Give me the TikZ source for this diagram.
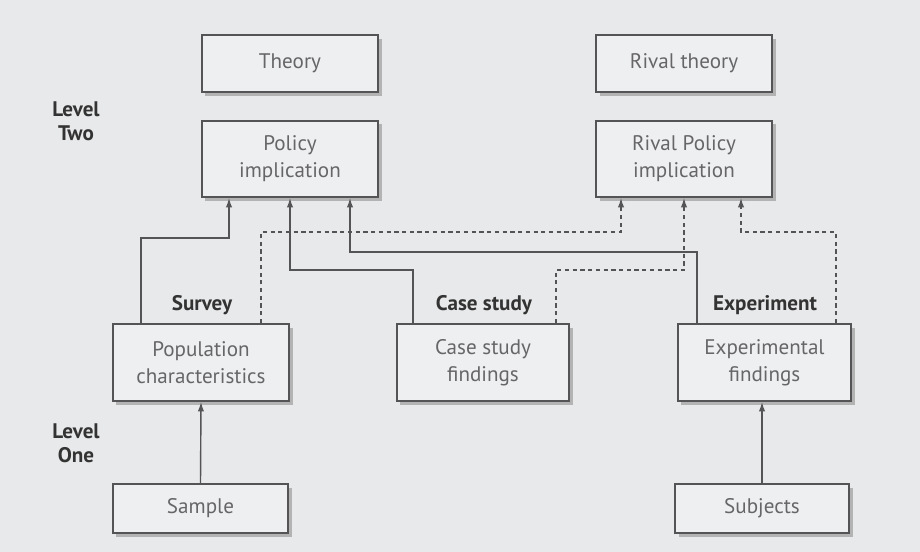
\documentclass[tikz,border=0pt]{standalone}
\usepackage{fontspec}
\setmainfont{PT Sans}
\usetikzlibrary{arrows.meta,calc,shadows}
\definecolor{paper}{rgb}{0.910, 0.914, 0.918}
\definecolor{boxfill}{rgb}{0.935, 0.937, 0.940}
\definecolor{boxtext}{rgb}{0.400, 0.400, 0.410}
\definecolor{edge}{rgb}{0.330, 0.330, 0.340}

\begin{document}
\begin{tikzpicture}[x=0.025cm,y=0.025cm,
  box/.style={draw=edge,line width=1.2pt,fill=boxfill,text=boxtext,align=center,
    minimum width=4.4cm,font=\fontsize{15}{19}\selectfont,
    drop shadow={shadow xshift=2.5pt,shadow yshift=-2.5pt,fill=gray!70,opacity=0.8}},
  tag/.style={font=\bfseries\fontsize{15}{17}\selectfont,text=black!80,align=center},
  link/.style={draw=edge,line width=1pt,-{Latex[length=2.4mm,width=1.6mm]}},
  rival/.style={link,dash pattern=on 3pt off 2.5pt}]

% paper
\fill [paper] (0,0) rectangle (920,552);

% level two
\node [box,minimum height=1.425cm] (theory)      at (290,488.5) {Theory};
\node [box,minimum height=1.425cm] (rivaltheory) at (684,488.5) {Rival theory};
\node [box,minimum height=1.9cm]   (policy)      at (290,393)   {Policy\\implication};
\node [box,minimum height=1.9cm]   (rivalpolicy) at (684,393)   {Rival Policy\\implication};

% level one
\node [box,minimum height=1.925cm] (popchar)  at (201,189.5)   {Population\\characteristics};
\node [box,minimum height=1.925cm,minimum width=4.3cm] (casefind) at (483,189.5) {Case study\\findings};
\node [box,minimum height=1.925cm,minimum width=4.33cm] (expfind) at (764.5,189.5) {Experimental\\findings};
\node [box,minimum height=1.225cm,minimum width=4.38cm] (sample)   at (200.5,43.5) {Sample};
\node [box,minimum height=1.225cm,minimum width=4.35cm] (subjects) at (762,43.5)   {Subjects};

% method labels
\node [tag] (survey)     at (202,247) {Survey};
\node [tag] (casestudy)  at (484,247) {Case study};
\node [tag] (experiment) at (765,247) {Experiment};
\node [tag] (leveltwo)   at (76,431)  {Level\\Two};
\node [tag] (levelone)   at (76,109)  {Level\\One};

% solid links
\draw [link] (sample.north) -- (popchar.south);
\draw [link] (subjects.north) -- (expfind.south -| subjects.north);
\draw [link] ($(popchar.north)+(-60,0)$) -- ++(0,85) -| ($(policy.south)+(-61,0)$);
\draw [link] ($(casefind.north)+(-70,0)$) -- ++(0,53) -| (policy.south);
\draw [link] ($(expfind.north)+(-67.5,0)$) -- ++(0,71) -| ($(policy.south)+(60,0)$);

% dotted links
\draw [rival] ($(popchar.north)+(60,0)$) -- ++(0,91) -| ($(rivalpolicy.south)+(-63,0)$);
\draw [rival] ($(casefind.north)+(73,0)$) -- ++(0,53) -| (rivalpolicy.south);
\draw [rival] ($(expfind.north)+(71.5,0)$) -- ++(0,91) -| ($(rivalpolicy.south)+(57,0)$);
\end{tikzpicture}
\end{document}
